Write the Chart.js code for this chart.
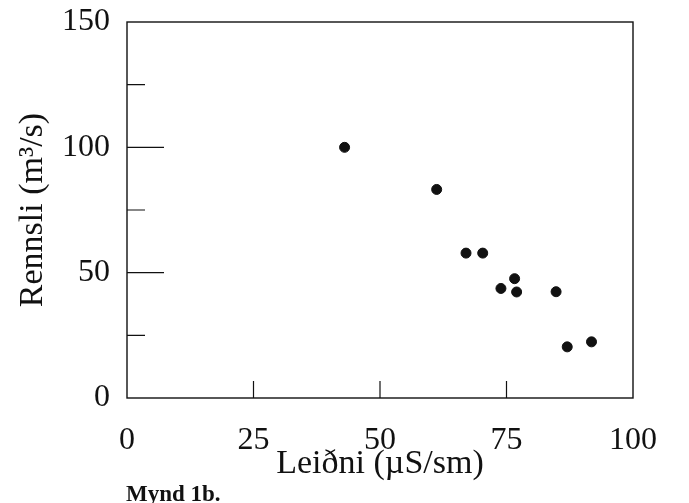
<!DOCTYPE html>
<html>
<head>
<meta charset="utf-8">
<script src="https://cdn.jsdelivr.net/npm/chart.js@4/dist/chart.umd.min.js"></script>
<style>
  html, body { margin: 0; padding: 0; background: #fff; }
  #wrap { width: 689px; height: 503px; }
</style>
</head>
<body>
<div id="wrap"><canvas id="c" width="689" height="503"></canvas></div>
<script>
// Conductivity (µS/sm) against discharge (m³/s)
const conductivity = [43, 61.2, 67, 70.3, 76.6, 73.9, 77, 84.8, 87, 91.8];
const discharge    = [100, 83.2, 57.8, 57.8, 47.6, 43.7, 42.3, 42.4, 20.4, 22.4];

const xTickValues = [0, 25, 50, 75, 100];
const yTickValues = [0, 50, 100, 150];
const yMajorMarks = [50, 100];
const yMinorMarks = [25, 75, 125];
const xMarks = [25, 50, 75];

const figureCaption = 'Mynd 1b.';
const xTitle = 'Leiðni (µS/sm)';
const yTitle = 'Rennsli (m³/s)';

const serif = '"Liberation Serif", "DejaVu Serif", serif';
const ink = '#111';

const points = conductivity.map((x, i) => ({ x: x, y: discharge[i] }));

// Frame around the plot plus inward-pointing tick marks and caption
const framePlugin = {
  id: 'frame',
  afterDraw(chart) {
    const { ctx, chartArea: a, scales } = chart;
    ctx.save();
    ctx.strokeStyle = ink;
    ctx.lineWidth = 1.4;
    ctx.strokeRect(a.left, a.top, a.right - a.left, a.bottom - a.top);

    ctx.lineWidth = 1.2;
    ctx.beginPath();
    yMajorMarks.forEach(v => {
      const y = scales.y.getPixelForValue(v);
      ctx.moveTo(a.left, y); ctx.lineTo(a.left + 37, y);
    });
    yMinorMarks.forEach(v => {
      const y = scales.y.getPixelForValue(v);
      ctx.moveTo(a.left, y); ctx.lineTo(a.left + 18, y);
    });
    xMarks.forEach(v => {
      const x = scales.x.getPixelForValue(v);
      ctx.moveTo(x, a.bottom); ctx.lineTo(x, a.bottom - 17);
    });
    ctx.stroke();

    ctx.fillStyle = ink;
    ctx.font = 'bold 23px ' + serif;
    ctx.textAlign = 'left';
    ctx.textBaseline = 'alphabetic';
    ctx.fillText(figureCaption, 126, 501);
    ctx.restore();
  }
};

new Chart(document.getElementById('c'), {
  type: 'scatter',
  data: {
    datasets: [{
      data: points,
      backgroundColor: ink,
      borderColor: ink,
      pointRadius: 5,
      pointHoverRadius: 5
    }]
  },
  options: {
    responsive: false,
    animation: false,
    layout: { padding: { top: 22, right: 56, bottom: 0, left: 0 } },
    plugins: { legend: { display: false }, tooltip: { enabled: false } },
    scales: {
      x: {
        type: 'linear',
        min: 0, max: 100,
        afterBuildTicks: s => { s.ticks = xTickValues.map(v => ({ value: v })); },
        afterFit: s => { s.height = 105; s.paddingLeft = 0; s.paddingRight = 0; },
        grid: { display: false },
        border: { display: false },
        ticks: { font: { family: serif, size: 32 }, color: ink, padding: 15, maxRotation: 0 },
        title: {
          display: true, text: xTitle, color: ink,
          font: { family: serif, size: 34 },
          padding: { top: 0, bottom: 19 }
        }
      },
      y: {
        type: 'linear',
        min: 0, max: 150,
        afterBuildTicks: s => { s.ticks = yTickValues.map(v => ({ value: v })); },
        afterFit: s => { s.width = 127; s.paddingTop = 0; s.paddingBottom = 0; },
        grid: { display: false },
        border: { display: false },
        ticks: { font: { family: serif, size: 32 }, color: ink, padding: 9 },
        title: {
          display: true, text: yTitle, color: ink,
          font: { family: serif, size: 34 },
          padding: { top: 13, bottom: 0 }
        }
      }
    }
  },
  plugins: [framePlugin]
});
</script>
</body>
</html>
